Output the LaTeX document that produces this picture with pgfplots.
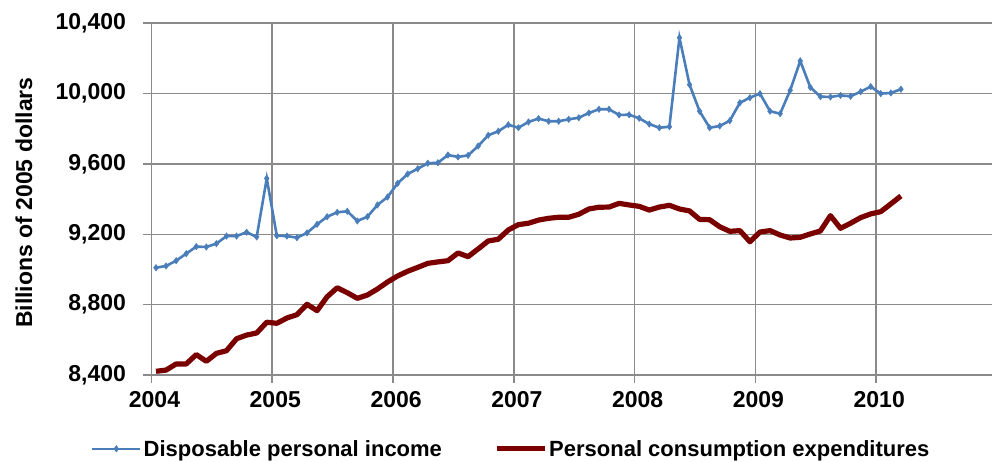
\documentclass[border=0pt]{standalone}
\usepackage{pgfplots}
\pgfplotsset{compat=1.18}
\usepackage{pgfplotstable}
\usepackage{fontspec}
\setmainfont{Liberation Sans}
\definecolor{dpiblue}{HTML}{4A7EBB}
\definecolor{pcered}{HTML}{7A0000}
\definecolor{gridgray}{HTML}{8A8A8A}
\pgfplotstableread{
m dpi pce
0 9010 8421
1 9020 8428
2 9050 8463
3 9090 8463
4 9130 8516
5 9128 8478
6 9147 8523
7 9190 8538
8 9190 8606
9 9212 8627
10 9185 8639
11 9518 8700
12 9192 8694
13 9190 8724
14 9181 8743
15 9208 8802
16 9257 8766
17 9300 8845
18 9325 8896
19 9331 8868
20 9276 8836
21 9300 8855
22 9367 8889
23 9412 8929
24 9490 8963
25 9543 8990
26 9573 9012
27 9604 9035
28 9607 9043
29 9651 9050
30 9640 9094
31 9649 9073
32 9702 9117
33 9763 9162
34 9786 9172
35 9823 9225
36 9806 9255
37 9839 9263
38 9858 9281
39 9843 9291
40 9843 9297
41 9854 9297
42 9863 9314
43 9890 9344
44 9911 9354
45 9911 9355
46 9879 9376
47 9880 9367
48 9860 9359
49 9827 9338
50 9806 9355
51 9812 9365
52 10318 9344
53 10051 9333
54 9900 9285
55 9806 9283
56 9816 9243
57 9846 9217
58 9948 9221
59 9977 9158
60 10000 9213
61 9900 9221
62 9886 9196
63 10019 9179
64 10186 9183
65 10036 9202
66 9983 9219
67 9981 9306
68 9990 9234
69 9985 9263
70 10011 9295
71 10040 9316
72 10000 9329
73 10004 9373
74 10025 9418
}\datatable
\begin{document}
\begin{tikzpicture}
\begin{axis}[
  at={(0,0)}, anchor=south west,
  scale only axis, width=840.5pt, height=351.7pt,
  xmin=0, xmax=83.5, ymin=8400, ymax=10400,
  xtick={0,12,24,36,48,60,72},
  xticklabels={2004,2005,2006,2007,2008,2009,2010},
  ytick={8400,8800,9200,9600,10000,10400},
  scaled y ticks=false,
  grid=major,
  major grid style={draw=gridgray, line width=1.6pt},
  axis x line*=bottom, axis y line*=left,
  axis line style={-, draw=gridgray, line width=1.6pt},
  tick align=outside, major tick length=8pt,
  tick style={draw=gridgray, line width=1.6pt},
  /pgf/number format/assume math mode=true,
  /pgf/number format/1000 sep={,},
  ticklabel style={font=\bfseries\fontsize{23}{27}\selectfont},
  yticklabel style={xshift=-14pt},
  xticklabel style={yshift=-5pt, xshift=3pt},
  ylabel={Billions of 2005 dollars},
  ylabel style={font=\bfseries\fontsize{23}{27}\selectfont, at={(axis description cs:-0.1517,0.49)}, anchor=center},
  legend columns=2,
  legend style={draw=none, fill=none, at={(0.428,-0.21)}, anchor=center,
    font=\bfseries\fontsize{22}{26}\selectfont,
    /tikz/every even column/.append style={column sep=50pt}},
  legend image code/.code={\draw[mark repeat=2,mark phase=2,#1] plot coordinates {(0pt,0pt) (24pt,0pt) (48pt,0pt)};},
]
\addplot[color=dpiblue, line width=2.6pt, mark=diamond*, mark size=3.2pt, mark options={fill=dpiblue, line width=0.5pt}]
  table[x expr=\thisrow{m}+0.45, y=dpi] {\datatable};
\addlegendentry{Disposable personal income}
\addplot[color=pcered, line width=5.2pt, line join=round, no marks]
  table[x expr=\thisrow{m}+0.45, y=pce] {\datatable};
\addlegendentry{Personal consumption expenditures}
\end{axis}
\pgfresetboundingbox
\path (-151.5pt,-87pt) rectangle (840.5pt,375pt);
\end{tikzpicture}
\end{document}
